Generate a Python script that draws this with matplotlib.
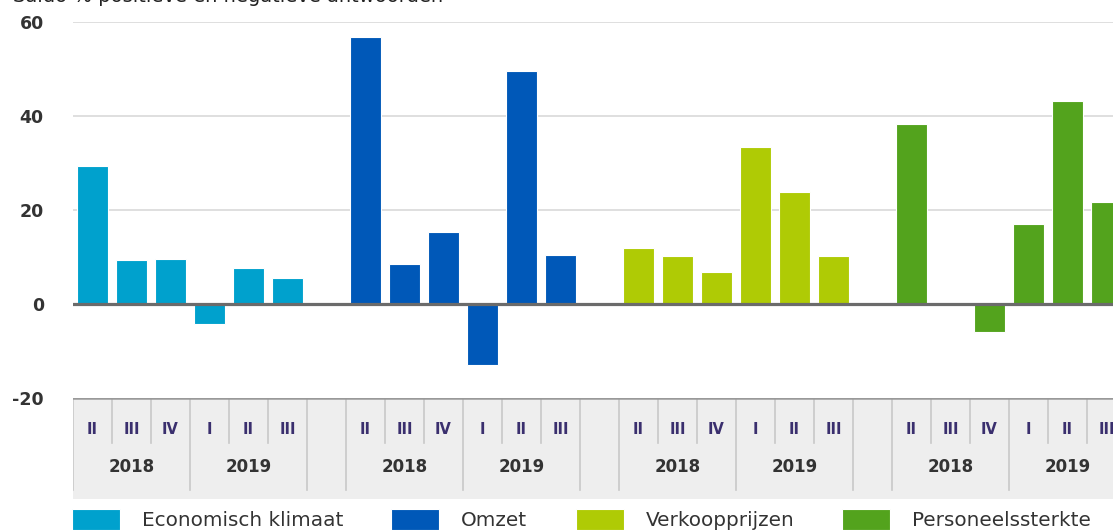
import numpy as np
import matplotlib
matplotlib.use("Agg")
import matplotlib.pyplot as plt

# values (saldo % positive minus negative answers)
series_names = ["Economisch klimaat", "Omzet", "Verkoopprijzen", "Personeelssterkte"]
series_colors = ["#00a1cd", "#0058b8", "#afcb05", "#53a31d"]
economisch = [29.4, 9.3, 9.6, -4.3, 7.6, 5.5]
omzet = [56.8, 8.5, 15.3, -13.0, 49.6, 10.5]
verkoopprijzen = [11.9, 10.2, 6.8, 33.3, 23.9, 10.2]
personeel = [38.4, 0.0, -6.0, 17.0, 43.2, 21.7]
quarters = ["II", "III", "IV", "I", "II", "III"]
years = ["2018", "2019"]
yticks = [-20, 0, 20, 40, 60]
title = "Saldo % positieve en negatieve antwoorden"

W, H = 1113, 530
fig = plt.figure(figsize=(W / 100, H / 100), dpi=100)

# main axes: 60 at y=22px, -20 at y=398px, left edge at x=73px
ax = fig.add_axes([73 / W, 1 - 398 / H, 1 - 73 / W, 376 / H])
slot = 39.0
xmax = -0.5 + (W - 73) / slot
ax.set_xlim(-0.5, xmax)
ax.set_ylim(-20, 60)

all_series = [economisch, omzet, verkoopprijzen, personeel]
handles = []
for g, (vals, col, name) in enumerate(zip(all_series, series_colors, series_names)):
    x = np.arange(len(vals)) + g * 7
    b = ax.bar(x, vals, width=0.8, color=col, edgecolor="white", linewidth=0.8,
               zorder=2, label=name)
    handles.append(b)

for yv in [20, 40, 60]:
    ax.axhline(yv, color="#dcdcdc", lw=1.3, zorder=1)
ax.axhline(0, color="#6b6b6b", lw=2.3, zorder=3)

ax.set_yticks(yticks)
ax.set_yticklabels([str(v) for v in yticks])
ax.tick_params(axis="y", length=0, pad=21, labelsize=12.5, labelcolor="#333333")
ax.tick_params(axis="x", length=0, labelbottom=False)
for s in ax.spines.values():
    s.set_visible(False)
for lab in ax.get_yticklabels():
    lab.set_fontweight("bold")

# category band below the plot
ax2 = fig.add_axes([73 / W, 1 - 499 / H, 1 - 73 / W, 101 / H])
ax2.set_facecolor("#eeeeee")
ax2.set_xlim(-0.5, xmax)
ax2.set_ylim(0, 1)
ax2.set_xticks([])
ax2.set_yticks([])
for s in ax2.spines.values():
    s.set_visible(False)
ax2.axhline(1, color="#999999", lw=1.8, zorder=3)

short_bottom = (499 - 443) / 101
full_bottom = (499 - 490) / 101
for g in range(4):
    s0 = g * 7
    for k, q in enumerate(quarters):
        ax2.text(s0 + k, 0.69, q, ha="center", va="center", fontsize=10.5,
                 fontweight="bold", color="#3a2f6e")
    for j, yr in enumerate(years):
        ax2.text(s0 + 1 + 3 * j, 0.315, yr, ha="center", va="center", fontsize=12,
                 fontweight="bold", color="#333333")
    for e in [-0.5, 2.5, 5.5]:
        ax2.plot([s0 + e, s0 + e], [full_bottom, 1], color="#c8c8c8", lw=1.2)
    for e in [0.5, 1.5, 3.5, 4.5]:
        ax2.plot([s0 + e, s0 + e], [short_bottom, 1], color="#c8c8c8", lw=1.2)

fig.legend(handles=handles, labels=series_names, loc="upper left",
           bbox_to_anchor=(72 / W, 1 - 509 / H), ncol=4, frameon=False,
           fontsize=14.4, borderpad=0, borderaxespad=0, handlelength=2.4,
           handleheight=1.2, handletextpad=1.1, columnspacing=2.4,
           labelcolor="#333333")

fig.text(13 / W, 1 - 2 / H, title, ha="left", va="baseline", fontsize=14,
         color="#222222")

fig.savefig("out.png", dpi=100)
